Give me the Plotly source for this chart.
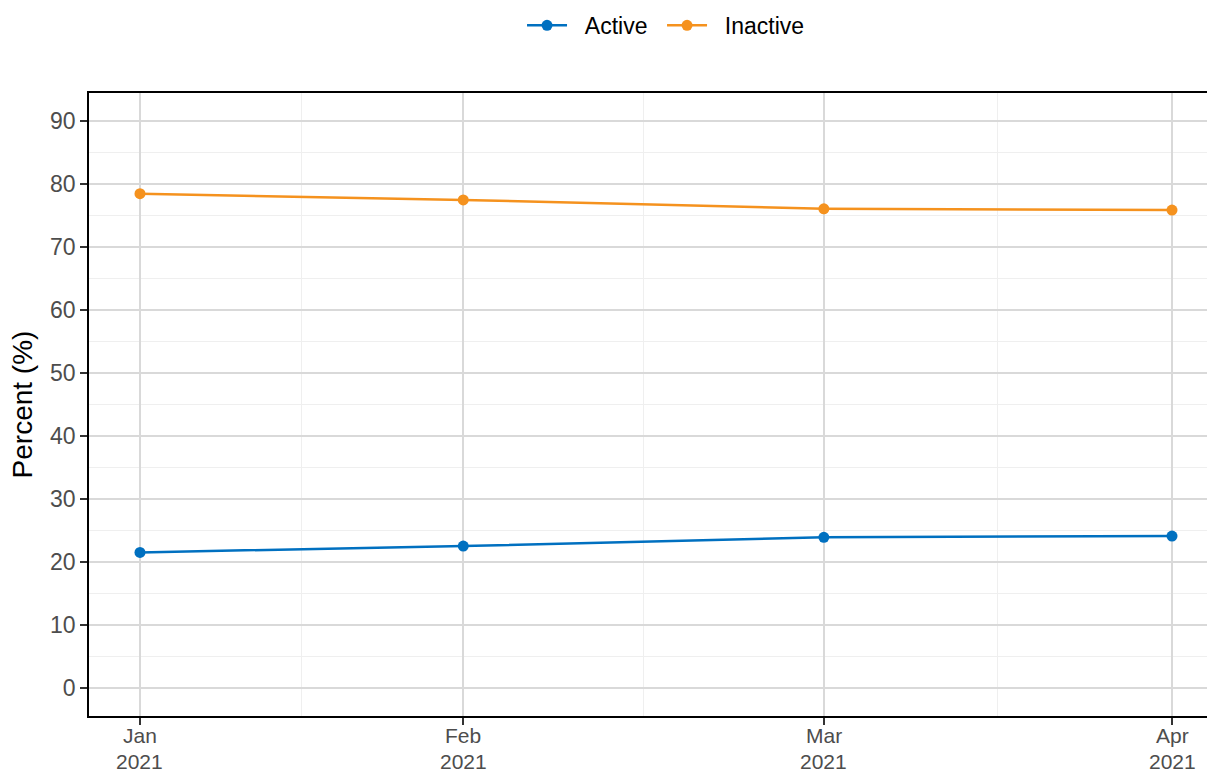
import plotly.graph_objects as go

dates = ["2021-01-20", "2021-02-15", "2021-03-16", "2021-04-13"]
month_labels = ["Jan", "Feb", "Mar", "Apr"]
year_labels = ["2021", "2021", "2021", "2021"]
minor_dates = ["2021-02-02", "2021-03-01 12:00", "2021-03-30"]
active = [21.5, 22.5, 23.9, 24.1]
inactive = [78.5, 77.5, 76.1, 75.9]
y_ticks = [0, 10, 20, 30, 40, 50, 60, 70, 80, 90]
series_names = ["Active", "Inactive"]

BLUE = "#0070C0"
ORANGE = "#F5921E"
FONT = "Liberation Sans, Arial, sans-serif"
TICK_GREY = "#4D4D4D"
PAD = "\u00a0\u00a0"

fig = go.Figure()
fig.add_trace(go.Scatter(x=dates, y=active, name=PAD + series_names[0], mode="lines+markers",
                         line=dict(color=BLUE, width=2.5), marker=dict(size=11, color=BLUE),
                         legend="legend"))
fig.add_trace(go.Scatter(x=dates, y=inactive, name=PAD + series_names[1], mode="lines+markers",
                         line=dict(color=ORANGE, width=2.5), marker=dict(size=11, color=ORANGE),
                         legend="legend2"))

legend_style = dict(orientation="h", xref="container", xanchor="left",
                    y=0.995, yanchor="top", yref="container",
                    font=dict(size=23, color="black"), itemwidth=40,
                    bgcolor="rgba(0,0,0,0)")

fig.update_layout(
    width=1207, height=774,
    margin=dict(l=89, r=0, t=93, b=58),
    paper_bgcolor="white", plot_bgcolor="white",
    font=dict(family=FONT, size=23, color=TICK_GREY),
    showlegend=True,
    legend=dict(x=0.4325, **legend_style),
    legend2=dict(x=0.5485, **legend_style),
)

# month and year tick labels, placed on the x scale
for d, m, yr in zip(dates, month_labels, year_labels):
    fig.add_annotation(x=d, xref="x", y=0, yref="paper", yanchor="top", yshift=-6.5,
                       text=m, showarrow=False, borderpad=0,
                       font=dict(size=21, color=TICK_GREY))
    fig.add_annotation(x=d, xref="x", y=0, yref="paper", yanchor="bottom", yshift=-57.5,
                       text=yr, showarrow=False, borderpad=0,
                       font=dict(size=21, color=TICK_GREY))

fig.update_xaxes(
    type="date", automargin=False,
    range=["2021-01-15 21:36", "2021-04-15 19:34"],
    tickmode="array", tickvals=dates, showticklabels=False,
    showgrid=True, gridcolor="#D9D9D9", gridwidth=2,
    minor=dict(tickmode="array", tickvals=minor_dates, showgrid=True,
               gridcolor="#EFEFEF", gridwidth=1, ticks=""),
    showline=True, linecolor="black", linewidth=1.5, mirror=True,
    ticks="outside", ticklen=7, tickwidth=2, tickcolor="#333333",
    zeroline=False,
)
fig.update_yaxes(
    range=[-4.5, 94.5], automargin=False,
    tickmode="array", tickvals=y_ticks,
    tickfont=dict(size=23, color=TICK_GREY),
    title=dict(text="Percent (%)", font=dict(size=28, color="black"), standoff=9),
    showgrid=True, gridcolor="#D9D9D9", gridwidth=2,
    minor=dict(dtick=5, tick0=0, showgrid=True, gridcolor="#EFEFEF", gridwidth=1, ticks=""),
    showline=True, linecolor="black", linewidth=1.5, mirror=False,
    ticks="outside", ticklen=7, tickwidth=2, tickcolor="#333333",
    zeroline=False,
)

fig.write_html("out.html", config={"displayModeBar": False},
               post_script="document.body.style.margin='0';document.body.style.overflow='hidden';")
